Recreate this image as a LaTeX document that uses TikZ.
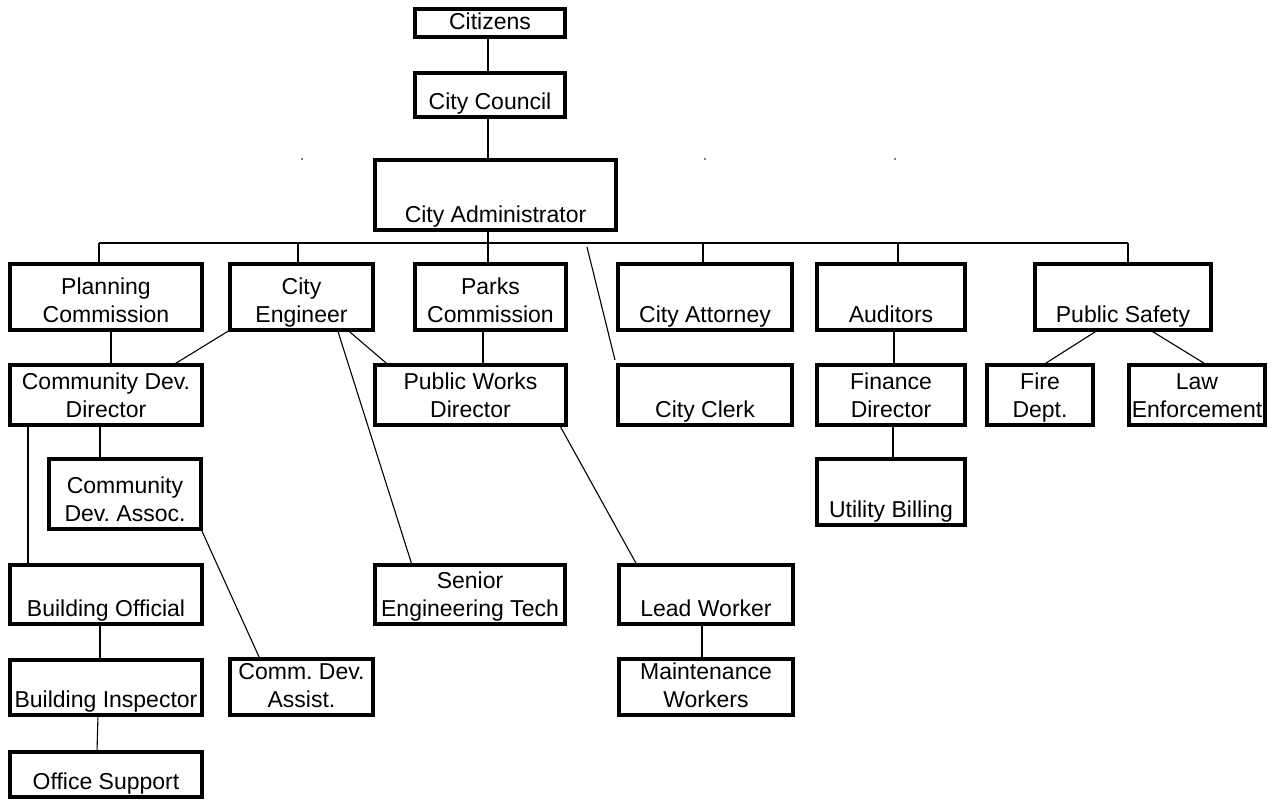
\documentclass[tikz,border=0pt]{standalone}
\usepackage{fontspec}
\setmainfont{Liberation Sans}
\frenchspacing
\newcommand\mlines[1]{\begin{tabular}[b]{@{}c@{}}#1\end{tabular}}
\newcommand\obox[6]{%
  \pgfmathsetlengthmacro\obW{(#3-#2-4)*1pt}%
  \pgfmathsetlengthmacro\obH{(#5-#4-4)*1pt}%
  \pgfmathsetlengthmacro\obT{(#5-#4-4-7.5)*1pt}%
  \node[bx,minimum width=\obW,minimum height=\obH,text height=\obT,text depth=7.5pt] (#1) at ({(#2+#3)/2},{(#4+#5)/2}) {\mlines{#6}};}
\begin{document}
\begin{tikzpicture}[x=1pt,y=-1pt,
  bx/.style={draw,line width=4pt,inner sep=0pt,outer sep=0pt,font=\fontsize{23}{28.5}\selectfont\frenchspacing},
  con/.style={line width=1.1pt}]
\useasboundingbox (0,0) rectangle (1278,801);
% boxes: name, x1, x2, y1, y2, text
\obox{cit}{413}{567}{7}{39}{Citizens}
\obox{cc}{413}{567}{71}{119}{City Council}
\obox{ca}{373}{618}{158}{232}{City Administrator}
\obox{pc}{8}{204}{262}{332}{Planning\\Commission}
\obox{ce}{228}{375}{262}{332}{City\\Engineer}
\obox{pk}{413}{568}{262}{332}{Parks\\Commission}
\obox{att}{616}{794}{262}{332}{City Attorney}
\obox{aud}{815}{967}{262}{332}{Auditors}
\obox{ps}{1033}{1213}{262}{332}{Public Safety}
\obox{cdd}{8}{204}{363}{427}{Community Dev.\\Director}
\obox{pw}{373}{568}{363}{427}{Public Works\\Director}
\obox{clk}{616}{794}{363}{427}{City Clerk}
\obox{fin}{815}{967}{363}{427}{Finance\\Director}
\obox{fire}{985}{1095}{363}{427}{Fire\\Dept.}
\obox{law}{1127}{1267}{363}{427}{Law\\Enforcement}
\obox{cda}{47}{203}{457}{531}{Community\\Dev. Assoc.}
\obox{ub}{815}{967}{457}{527}{Utility Billing}
\obox{bo}{8}{204}{563}{626}{Building Official}
\obox{set}{373}{567}{563}{626}{Senior\\Engineering Tech}
\obox{lw}{617}{795}{563}{626}{Lead Worker}
\obox{bi}{8}{204}{658}{717}{Building Inspector}
\obox{cdas}{228}{375}{657}{717}{Comm. Dev.\\Assist.}
\obox{mw}{617}{795}{657}{717}{Maintenance\\Workers}
\obox{os}{8}{204}{750}{799}{Office Support}
% bus
\coordinate (b1) at (99,243);
\coordinate (b2) at (298,243);
\coordinate (b3) at (488,243);
\coordinate (b4) at (703,243);
\coordinate (b5) at (898,243);
\coordinate (b6) at (1128,243);
\coordinate (clkT) at (587,247);
\draw[con] (b3 |- cit.south) -- (b3 |- cc.north);
\draw[con] (b3 |- cc.south) -- (b3 |- ca.north);
\draw[con] (b1) -- (b6);
\draw[con] (b1) -- (b1 |- pc.north);
\draw[con] (b2) -- (b2 |- ce.north);
\draw[con] (b3 |- ca.south) -- (b3 |- pk.north);
\draw[con] (b4) -- (b4 |- att.north);
\draw[con] (b5) -- (b5 |- aud.north);
\draw[con] (b6) -- (b6 |- ps.north);
\draw[con] (clkT) -- ([shift={(-3pt,5pt)}]clk.north west);
% second level
\draw[con] ([xshift=5pt]pc.south) -- ([xshift=5pt]pc.south |- cdd.north);
\draw[con] (ce.south west) -- ([xshift=67pt]cdd.north);
\draw[con] ([xshift=46pt]ce.south) -- ([xshift=-82pt]pw.north);
\draw[con] ([xshift=36pt]ce.south) -- ([xshift=-58pt]set.north);
\draw[con] ([xshift=-7.5pt]pk.south) -- ([xshift=-7.5pt]pk.south |- pw.north);
\draw[con] ([xshift=89pt]pw.south) -- ([xshift=-69pt]lw.north);
\draw[con] ([xshift=3pt]aud.south) -- ([xshift=3pt]aud.south |- fin.north);
\draw[con] ([xshift=2pt]fin.south) -- ([xshift=2pt]fin.south |- ub.north);
\draw[con] ([xshift=-25pt]ps.south) -- ([xshift=3pt]fire.north);
\draw[con] ([xshift=27pt]ps.south) -- ([xshift=10pt]law.north);
% lower levels
\draw[con] ([xshift=-78pt]cdd.south) -- ([xshift=-78pt]cdd.south |- bo.north);
\draw[con] ([xshift=-6pt]cdd.south) -- ([xshift=-6pt]cdd.south |- cda.north);
\draw[con] (cda.south east) -- ([xshift=-41.5pt]cdas.north);
\draw[con] ([xshift=-6pt]bo.south) -- ([xshift=-6pt]bo.south |- bi.north);
\draw[con] ([xshift=-8pt]bi.south) -- ([xshift=-9pt]os.north);
\draw[con] ([xshift=-4pt]lw.south) -- ([xshift=-4pt]lw.south |- mw.north);
% specks
\fill (302,159) circle (0.8pt);
\fill (705,159) circle (0.8pt);
\fill (895,159) circle (0.8pt);
\end{tikzpicture}
\end{document}
